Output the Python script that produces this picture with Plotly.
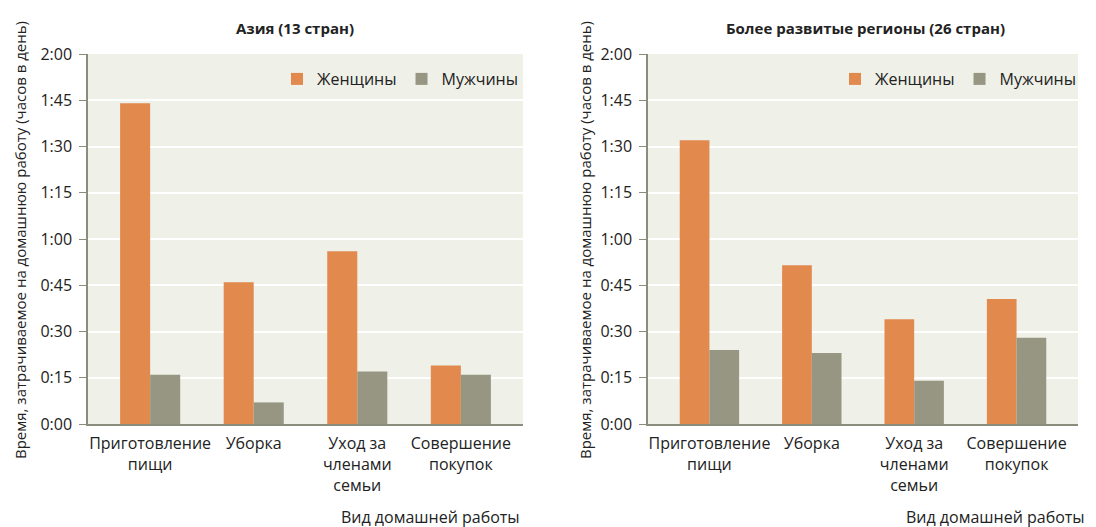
import plotly.graph_objects as go

categories = ["Приготовление<br>пищи", "Уборка", "Уход за<br>членами<br>семьи", "Совершение<br>покупок"]
asia_women = [104, 46, 56, 19]
asia_men = [16, 7, 17, 16]
dev_women = [92, 51.5, 34, 40.5]
dev_men = [24, 23, 14, 28]
ytick_vals = [0, 15, 30, 45, 60, 75, 90, 105, 120]
ytick_text = ["0:00", "0:15", "0:30", "0:45", "1:00", "1:15", "1:30", "1:45", "2:00"]
titles = ["Азия (13 стран)", "Более развитые регионы (26 стран)"]
ytitle = "Время, затрачиваемое на домашнюю работу (часов в день)"
xtitle = "Вид домашней работы"

ORANGE = "#E2894E"
GRAY = "#969683"
BG = "#EFF0E7"
AXIS = "#8C8C7C"
FONT = "Open Sans"
OFF = 8  # page body margin
W, H = 1096 - OFF, 527 - OFF

fig = go.Figure()
fig.add_trace(go.Bar(x=categories, y=asia_women, name="Женщины", marker_color=ORANGE,
                     xaxis="x", yaxis="y", legend="legend"))
fig.add_trace(go.Bar(x=categories, y=asia_men, name="Мужчины", marker_color=GRAY,
                     xaxis="x", yaxis="y", legend="legend"))
fig.add_trace(go.Bar(x=categories, y=dev_women, name="Женщины", marker_color=ORANGE,
                     xaxis="x2", yaxis="y2", legend="legend2"))
fig.add_trace(go.Bar(x=categories, y=dev_men, name="Мужчины", marker_color=GRAY,
                     xaxis="x2", yaxis="y2", legend="legend2"))

def px(v): return (v - OFF) / W
def py(v): return 1 - (v - OFF) / H

panels = [(88, 523), (648, 1078)]
ydom = [py(424), py(54)]

xcommon = dict(type="category", range=[-0.6, 3.6], showline=True, linecolor=AXIS, linewidth=1.5,
               ticks="", showgrid=False, automargin=False, ticklabelstandoff=4,
               tickfont=dict(family=FONT, size=16, color="#222"), fixedrange=True)
ycommon = dict(range=[0, 120], tickvals=ytick_vals, ticktext=ytick_text, showline=True, linecolor=AXIS,
               linewidth=1.5, ticks="outside", ticklen=7, tickcolor=AXIS, showgrid=True, gridcolor="white",
               gridwidth=1.5, zeroline=False, automargin=False, ticklabelstandoff=4,
               tickfont=dict(family=FONT, size=16, color="#222"))

fig.update_layout(
    width=W, height=H, margin=dict(l=0, r=0, t=0, b=0),
    paper_bgcolor="white", plot_bgcolor=BG, template="none",
    barmode="group", bargap=0.42, bargroupgap=0,
    font=dict(family=FONT, size=15, color="#222"),
    xaxis=dict(domain=[px(panels[0][0]), px(panels[0][1])], anchor="y", **xcommon),
    yaxis=dict(domain=ydom, anchor="x", **ycommon),
    xaxis2=dict(domain=[px(panels[1][0]), px(panels[1][1])], anchor="y2", **xcommon),
    yaxis2=dict(domain=ydom, anchor="x2", **ycommon),
    legend=dict(orientation="h", x=px(523), xanchor="right", y=py(62), yanchor="top",
                bgcolor="rgba(0,0,0,0)", font=dict(family=FONT, size=16, color="#222"),
                itemwidth=30, tracegroupgap=0),
    legend2=dict(orientation="h", x=px(1081), xanchor="right", y=py(62), yanchor="top",
                 bgcolor="rgba(0,0,0,0)", font=dict(family=FONT, size=16, color="#222"),
                 itemwidth=30, tracegroupgap=0),
    showlegend=True,
)

annotations = []
for t, cx, yx in zip(titles, [295, 865], [20, 585]):
    annotations.append(dict(text="<b>" + t + "</b>", x=px(cx), y=py(28), xref="paper", yref="paper",
                            showarrow=False, xanchor="center", yanchor="middle",
                            font=dict(family=FONT, size=15, color="#222")))
    annotations.append(dict(text=ytitle, x=px(yx), y=py(240), xref="paper", yref="paper", showarrow=False,
                            textangle=-90, xanchor="center", yanchor="middle",
                            font=dict(family=FONT, size=15, color="#222")))
for xr in [522, 1087]:
    annotations.append(dict(text=xtitle, x=px(xr), y=py(517), xref="paper", yref="paper", showarrow=False,
                            xanchor="right", yanchor="middle", font=dict(family=FONT, size=16, color="#222")))
fig.update_layout(annotations=annotations)

fig.write_html("out.html")
